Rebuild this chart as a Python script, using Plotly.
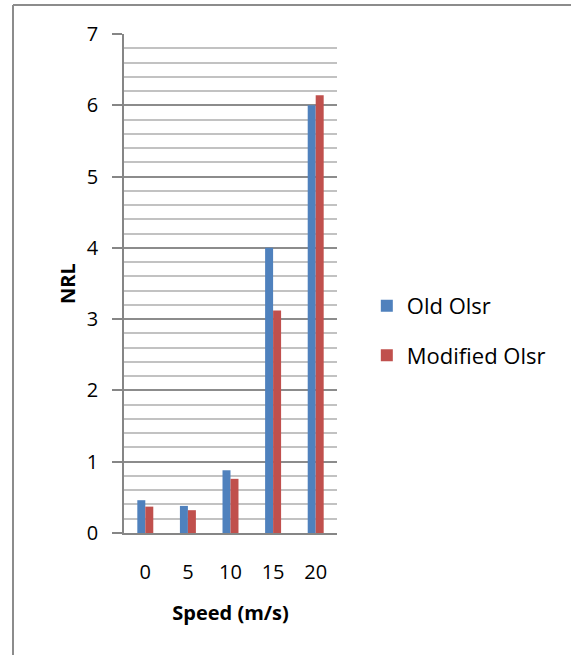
import plotly.graph_objects as go

speeds = ["0", "5", "10", "15", "20"]
old_olsr = [0.46, 0.38, 0.88, 4.0, 6.0]
modified_olsr = [0.37, 0.32, 0.76, 3.12, 6.14]
y_ticks = [0, 1, 2, 3, 4, 5, 6, 7]

W, H = 571, 655
L, R, T, B = 124, 234, 34, 122
pw, ph = W - L - R, H - T - B

FONT = "Open Sans"

fig = go.Figure()
fig.add_trace(go.Bar(x=speeds, y=old_olsr, name="Old Olsr", marker_color="#4F81BD",
                     marker_line_width=0, legendgroup="a"))
fig.add_trace(go.Bar(x=speeds, y=modified_olsr, name="Modified Olsr", marker_color="#C0504D",
                     marker_line_width=0, legendgroup="b"))

bx = (13 - L) / pw
by = (H - B - 5) / ph
fig.add_shape(type="line", xref="paper", yref="paper", x0=bx, x1=bx, y0=-1, y1=by,
              line=dict(color="#8c8c8c", width=2))
fig.add_shape(type="line", xref="paper", yref="paper", x0=bx, x1=3, y0=by, y1=by,
              line=dict(color="#8c8c8c", width=2))

fig.update_layout(
    width=W, height=H,
    margin=dict(l=L, r=R, t=T, b=B, autoexpand=False),
    paper_bgcolor="white", plot_bgcolor="white",
    font=dict(family=FONT, size=20, color="black"),
    barmode="group", bargap=0.625, bargroupgap=0,
    showlegend=True,
    legend=dict(x=1.14, xanchor="left", y=0.405, yanchor="middle",
                font=dict(family=FONT, size=22, color="black"),
                tracegroupgap=18, bgcolor="rgba(0,0,0,0)"),
    xaxis=dict(type="category", showgrid=False, showline=True, linecolor="#868686", linewidth=1.5,
               ticks="", ticklabelstandoff=20,
               title=dict(text="<b>Speed (m/s)</b>", font=dict(family=FONT, size=20), standoff=22)),
    yaxis=dict(range=[0, 7], tickvals=y_ticks, showline=True, linecolor="#868686", linewidth=1.5,
               ticks="outside", ticklen=10, tickcolor="#868686", tickwidth=1.5,
               ticklabelstandoff=10,
               showgrid=True, gridcolor="#8c8c8c", gridwidth=1.5,
               minor=dict(dtick=0.2, showgrid=True, gridcolor="#c2c2c2", gridwidth=1.5, ticks=""),
               zeroline=False,
               title=dict(text="<b>NRL</b>", font=dict(family=FONT, size=20), standoff=6)),
)

fig.write_html("out.html", config={"displayModeBar": False},
               post_script="document.body.style.margin='0';")
